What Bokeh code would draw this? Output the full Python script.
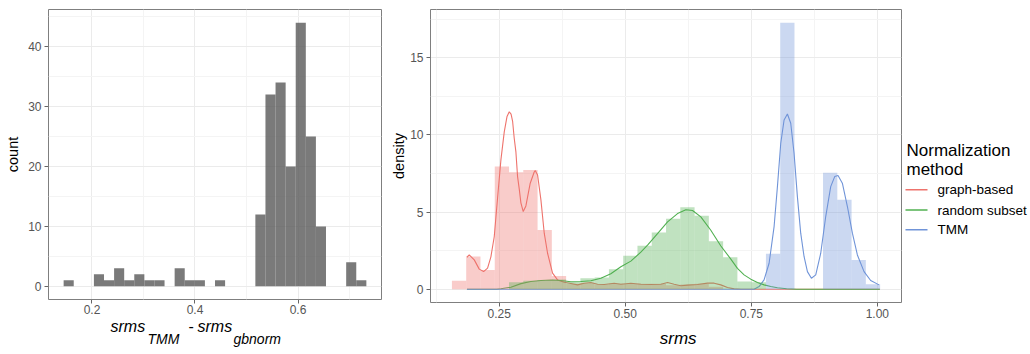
import numpy as np
from bokeh.plotting import figure
from bokeh.layouts import row, column
from bokeh.models import (ColumnDataSource, FixedTicker, Range1d, PrintfTickFormatter)
from bokeh.core.properties import value
from bokeh.embed import file_html
from bokeh.resources import INLINE

FONT = "Liberation Sans"

# ---------------- data: left histogram (srms_TMM - srms_gbnorm) ----------------
diff_bin_start = 0.1450
diff_bin_width = 0.01959
diff_counts = [1, 0, 0, 2, 1, 3, 1, 2, 1, 1, 0, 3, 1, 1, 0, 1, 0, 0, 0,
               12, 32, 34, 20, 44, 25, 10, 0, 0, 4, 1]
left_x_ticks = [0.2, 0.4, 0.6]
left_x_minor = [0.3, 0.5, 0.7]
left_y_ticks = [0, 10, 20, 30, 40]
left_y_minor = [5, 15, 25, 35, 45]

# ---------------- data: right histogram + densities (srms) ----------------
methods = ["graph-based", "random subset", "TMM"]
method_colors = ["#EE736C", "#50B050", "#7094D8"]
srms_bin_start = 0.1562
srms_bin_width = 0.02831
hist_graph = [0.54, 2.12, 1.25, 7.95, 7.58, 7.73, 3.84, 0.86, 0.35, 0.4, 0.3, 0.35,
              0.33, 0.35, 0.35, 0.25, 0.3, 0.35, 0.15, 0, 0, 0, 0, 0, 0, 0, 0, 0, 0, 0]
hist_random = [0, 0, 0, 0, 0.45, 0.55, 0.6, 0.62, 0.47, 0.71, 0.76, 1.3, 2.16, 2.81,
               3.68, 4.57, 5.32, 4.76, 3.1, 2.07, 0.5, 0.45, 0, 0, 0, 0, 0, 0, 0, 0]
hist_tmm = [0, 0, 0, 0, 0, 0, 0, 0, 0, 0, 0, 0, 0, 0, 0, 0, 0, 0, 0, 0, 0, 0,
            2.3, 17.27, 0, 0, 7.55, 5.8, 1.9, 0.32]

dens_graph_x = [0.186, 0.1905, 0.2005, 0.2104, 0.219, 0.2269, 0.2335, 0.2401, 0.2467,
                0.2534, 0.26, 0.2655, 0.2699, 0.2735, 0.2765, 0.2797, 0.2831, 0.2864,
                0.2897, 0.293, 0.2976, 0.3029, 0.3115, 0.3194, 0.3214, 0.3261, 0.3327,
                0.3393, 0.3459, 0.3558, 0.3657, 0.3789, 0.3921, 0.4054, 0.4185, 0.4318,
                0.4451, 0.4582, 0.478, 0.4913, 0.5111, 0.5309, 0.5507, 0.5706, 0.5839,
                0.5969, 0.6102, 0.6235, 0.6433, 0.6632, 0.6763, 0.6895, 0.7028, 0.7159,
                0.7292, 1.005]
dens_graph_y = [2.07, 2.22, 1.9, 1.3, 1.14, 1.36, 2.1, 3.4, 5.9, 8.4, 10.2, 11.2, 11.5,
                11.35, 10.9, 9.8, 8.9, 7.3, 6.5, 5.6, 5.03, 5.4, 6.87, 7.6, 7.69, 7.4,
                5.79, 3.63, 2.33, 1.04, 0.6, 0.45, 0.37, 0.28, 0.38, 0.43, 0.32, 0.3,
                0.38, 0.32, 0.38, 0.32, 0.3, 0.32, 0.43, 0.32, 0.22, 0.26, 0.3, 0.39,
                0.39, 0.28, 0.11, 0.02, 0.0, 0.0]

dens_random_x = [0.186, 0.245, 0.2534, 0.2732, 0.293, 0.3128, 0.3327, 0.3525, 0.3723,
                 0.3921, 0.412, 0.4318, 0.4516, 0.4714, 0.4913, 0.5111, 0.5309, 0.5442,
                 0.564, 0.5839, 0.6037, 0.6202, 0.6334, 0.6499, 0.6697, 0.6896, 0.7094,
                 0.7225, 0.7357, 0.7489, 0.7622, 0.7754, 0.7886, 0.8018, 0.82, 0.84, 1.005]
dens_random_y = [0.0, 0.0, 0.03, 0.13, 0.36, 0.5, 0.56, 0.6, 0.56, 0.48, 0.5, 0.55,
                 0.71, 1.0, 1.45, 1.82, 2.4, 2.85, 3.6, 4.36, 4.9, 5.15, 5.1, 4.69,
                 3.82, 2.8, 1.95, 1.35, 0.93, 0.65, 0.43, 0.28, 0.17, 0.09, 0.03, 0.0, 0.0]

dens_tmm_x = [0.186, 0.7555, 0.7654, 0.7753, 0.7853, 0.7952, 0.8018, 0.8084, 0.815,
              0.8216, 0.8282, 0.8348, 0.8414, 0.848, 0.8546, 0.8613, 0.8692, 0.8778,
              0.8877, 0.8976, 0.9075, 0.9154, 0.922, 0.9306, 0.9406, 0.9505, 0.9604,
              0.9736, 0.9868, 1.0033]
dens_tmm_y = [0.0, 0.0, 0.17, 0.6, 1.68, 4.06, 6.65, 9.46, 10.97, 11.36, 10.76, 8.81,
              6.0, 3.63, 2.12, 1.14, 0.71, 0.93, 2.33, 4.71, 6.65, 7.3, 7.37, 6.87,
              5.36, 3.63, 2.22, 1.14, 0.56, 0.28]

right_x_ticks = [0.25, 0.5, 0.75, 1.0]
right_x_minor = [0.125, 0.375, 0.625, 0.875]
right_y_ticks = [0, 5, 10, 15]
right_y_minor = [2.5, 7.5, 12.5, 17.5]


def style(p, xt, xm, yt, ym, xfmt):
    p.outline_line_color = "#7f7f7f"
    p.outline_line_width = 1
    p.xaxis.ticker = FixedTicker(ticks=xt, minor_ticks=xm)
    p.yaxis.ticker = FixedTicker(ticks=yt, minor_ticks=ym)
    p.xaxis.formatter = PrintfTickFormatter(format=xfmt)
    for ax in p.axis:
        ax.axis_line_color = None
        ax.major_tick_line_color = "#666666"
        ax.major_tick_in = 0
        ax.major_tick_out = 4
        ax.minor_tick_line_color = None
        ax.major_label_text_font = FONT
        ax.major_label_text_font_size = "12px"
        ax.major_label_text_color = "#555555"
        ax.axis_label_text_font = FONT
        ax.axis_label_text_font_size = "14.5px"
        ax.axis_label_text_font_style = "normal"
        ax.axis_label_text_color = "black"
        ax.axis_label_standoff = 0
    p.xaxis.major_label_standoff = 2
    p.yaxis.major_label_standoff = 3
    p.grid.grid_line_color = "#EBEBEB"
    p.grid.grid_line_width = 1
    p.grid.minor_grid_line_color = "#F4F4F4"
    p.grid.minor_grid_line_width = 1
    p.background_fill_color = "white"
    p.border_fill_color = "white"


def blank(x0, x1, y0, y1):
    # a text strip whose coordinates are page pixels (x0..x1, y0..y1, y downward)
    f = figure(output_backend="svg", toolbar_location=None,
               width=int(x1 - x0), height=int(y1 - y0),
               x_axis_type=None, y_axis_type=None,
               x_range=Range1d(x0, x1), y_range=Range1d(y1, y0),
               min_border=0, min_border_left=0, min_border_right=0,
               min_border_top=0, min_border_bottom=0, frame_align=False)
    f.outline_line_color = None
    f.grid.visible = False
    f.background_fill_color = "white"
    f.border_fill_color = "white"
    return f


BASE_SHIFT = 7  # rendered alphabetic baseline sits this many px lower than the anchor


def txt(f, x, y, s, size, italic=False, align="left"):
    f.text(x=[x], y=[y - BASE_SHIFT], text=[s], text_font=value(FONT),
           text_font_size=value(size),
           text_font_style=value("italic" if italic else "normal"),
           text_color="black", text_align=align, text_baseline="alphabetic")


# ---------------- left figure (fixed outer size so the strip below starts at y=321) ----------------
p1 = figure(output_backend="svg", toolbar_location=None,
            width=385, height=321, frame_align=False,
            min_border_left=48, min_border_right=4, min_border_top=9, min_border_bottom=22,
            x_range=Range1d(0.1156, 0.7621), y_range=Range1d(-2.2, 46.2))
edges1 = diff_bin_start + diff_bin_width * np.arange(len(diff_counts) + 1)
src1 = ColumnDataSource(dict(left=edges1[:-1], right=edges1[1:],
                             top=diff_counts, bottom=[0] * len(diff_counts)))
p1.quad(left="left", right="right", top="top", bottom="bottom", source=src1,
        fill_color="#595959", fill_alpha=0.8, line_color=None)
style(p1, left_x_ticks, left_x_minor, left_y_ticks, left_y_minor, "%.1f")
p1.xaxis.major_label_standoff = 1
p1.yaxis.axis_label = "count"
p1.yaxis.axis_label_standoff = 4

# x title of left panel (with subscripts), in a text strip below the panel
t1 = blank(0, 385, 321, 354)
txt(t1, 110, 332.5, "srms", "16px", italic=True)
txt(t1, 147, 345, "TMM", "14px", italic=True)
txt(t1, 188, 332.5, "-", "16px")
txt(t1, 197, 332.5, "srms", "16px", italic=True)
txt(t1, 233, 345, "gbnorm", "14px", italic=True)

# ---------------- right figure ----------------
p2 = figure(output_backend="svg", toolbar_location=None,
            width=518, height=334, frame_align=False,
            min_border_left=45, min_border_right=2, min_border_top=9, min_border_bottom=32,
            x_range=Range1d(0.1137, 1.0479), y_range=Range1d(-0.8635, 18.1335))
style(p2, right_x_ticks, right_x_minor, right_y_ticks, right_y_minor, "%.2f")
p2.yaxis.axis_label = "density"

dens = [(dens_graph_x, dens_graph_y), (dens_random_x, dens_random_y), (dens_tmm_x, dens_tmm_y)]
for (dx, dy), col in zip(dens, method_colors):
    p2.line(dx, dy, line_color=col, line_width=1.1)

edges2 = srms_bin_start + srms_bin_width * np.arange(len(hist_graph) + 1)
for h, col in zip([hist_graph, hist_random, hist_tmm], method_colors):
    src = ColumnDataSource(dict(left=edges2[:-1], right=edges2[1:], top=h, bottom=[0] * len(h)))
    p2.quad(left="left", right="right", top="top", bottom="bottom", source=src,
            fill_color=col, fill_alpha=0.36, line_color=None)

t2 = blank(385, 903, 334, 354)
txt(t2, 677.7, 345, "srms", "17px", italic=True, align="center")

# ---------------- legend strip ----------------
pl = blank(903, 1030, 0, 354)
txt(pl, 906, 156.7, "Normalization", "17px")
txt(pl, 906, 175.5, "method", "17px")
key_y = [189.3, 209.5, 229.3]
pl.segment(x0=[905] * 3, y0=key_y, x1=[927] * 3, y1=key_y, line_color=method_colors, line_width=1.6)
pl.text(x=[937] * 3, y=key_y, text=methods, text_font=value(FONT),
        text_font_size=value("13.5px"), text_color="black",
        text_align="left", text_baseline="middle")

layout = row(column(p1, t1), column(p2, t2), pl)
open("out.html", "w").write(file_html(layout, INLINE))
